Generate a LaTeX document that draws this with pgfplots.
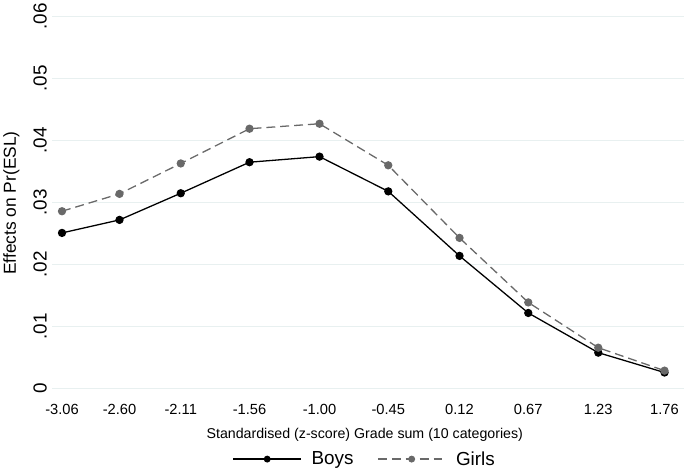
\documentclass[border=0pt]{standalone}
\usepackage{pgfplots}
\pgfplotsset{compat=1.18}
\usepackage{fontspec}
\setmainfont{Liberation Sans}
\definecolor{gridc}{RGB}{232,240,240}
\definecolor{girlc}{RGB}{105,105,105}

\begin{document}
\begin{tikzpicture}
\begin{axis}[
  scale only axis,
  width=637pt, height=390pt,
  xmin=-3.139, xmax=1.919,
  ymin=-0.00128, ymax=0.06112,
  scaled y ticks=false,
  axis line style={draw=none},
  major tick length=0pt,
  xtick={-3.06,-2.60,-2.11,-1.56,-1.00,-0.45,0.12,0.67,1.23,1.76},
  xticklabels={-3.06,-2.60,-2.11,-1.56,-1.00,-0.45,0.12,0.67,1.23,1.76},
  ytick={0,0.01,0.02,0.03,0.04,0.05,0.06},
  yticklabels={0,.01,.02,.03,.04,.05,.06},
  ymajorgrids, grid style={gridc, line width=1.2pt},
  xticklabel style={font=\fontsize{14.8}{14.8}\selectfont, anchor=center, yshift=-13pt},
  yticklabel style={font=\fontsize{19}{19}\selectfont, xshift=-12pt, rotate=90, anchor=center},
  xlabel={Standardised (z-score) Grade sum (10 categories)},
  ylabel={Effects on Pr(ESL)},
  xlabel style={font=\fontsize{14.3}{14.3}\selectfont, at={(axis description cs:0.4945,0)}, anchor=center, yshift=-39pt},
  ylabel style={font=\fontsize{17.5}{17.5}\selectfont, at={(axis description cs:-0.0644,0.5)}, anchor=center},
  legend columns=2,
  legend style={draw=none, fill=none, font=\fontsize{19}{19}\selectfont,
    at={(0.4945,-0.1615)}, anchor=center,
    /tikz/every even column/.append style={column sep=22pt},
    /tikz/every odd column/.append style={column sep=8pt}},
  legend image code/.code={\draw[mark repeat=2,mark phase=2,#1,mark size=2.8pt] plot coordinates {(0pt,0pt) (34pt,0pt) (68pt,0pt)};},
  clip=false,
]
\addplot[black, line width=1.3pt, mark=*, mark size=3.5pt, mark options={solid}] coordinates {
  (-3.06,0.0251) (-2.60,0.0272) (-2.11,0.0315) (-1.56,0.0365) (-1.00,0.0374)
  (-0.45,0.0318) (0.12,0.0214) (0.67,0.0122) (1.23,0.0058) (1.76,0.0026)};
\addplot[girlc, line width=1.3pt, dash pattern=on 9pt off 5pt, mark=*, mark size=3.5pt, mark options={solid}] coordinates {
  (-3.06,0.0286) (-2.60,0.0314) (-2.11,0.0363) (-1.56,0.0419) (-1.00,0.0427)
  (-0.45,0.0360) (0.12,0.0243) (0.67,0.0139) (1.23,0.0066) (1.76,0.0029)};
\legend{Boys, Girls}
\end{axis}
\end{tikzpicture}
\end{document}
